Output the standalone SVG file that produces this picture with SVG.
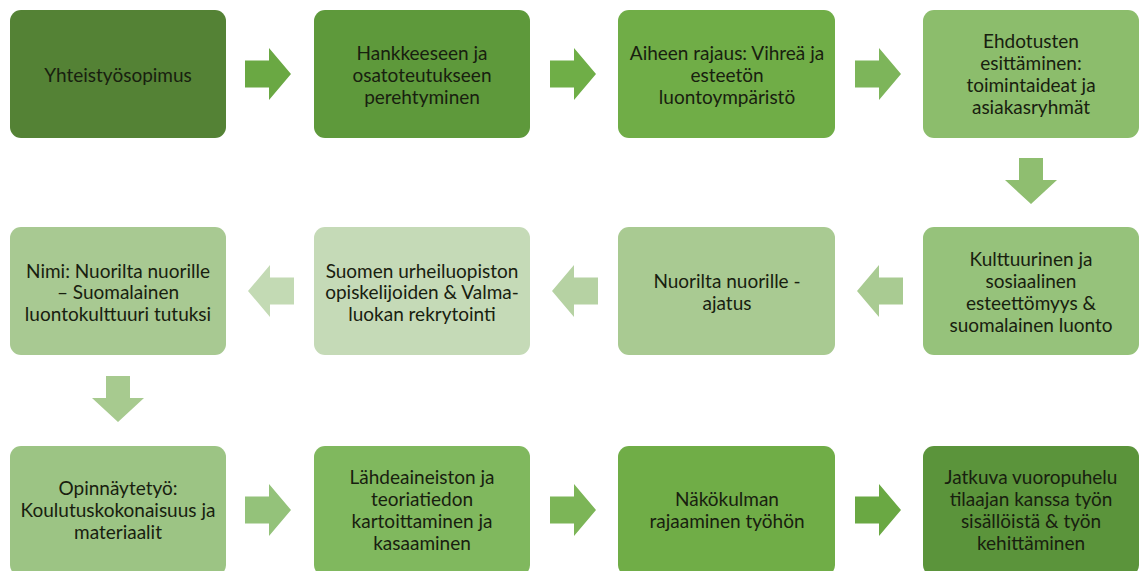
<svg xmlns="http://www.w3.org/2000/svg" width="1141" height="571" viewBox="0 0 1141 571">
<style>
.box{stroke:none}
text{font-family:Lato,"Liberation Sans",sans-serif;font-size:19px;fill:#18200f;text-anchor:middle;dominant-baseline:central}
</style>
<defs>
<path id="ar" d="M0,-13.5 H24 V-26 L46,0 L24,26 V13.5 H0 Z"/>
<path id="al" d="M0,-13.5 H-24 V-26 L-46,0 L-24,26 V13.5 H0 Z"/>
<path id="ad" d="M-12,0 V22 H-26 L0,46 L26,22 H12 V0 Z"/>
</defs>
<rect width="1141" height="571" fill="#ffffff"/>

<g id="connectors">
<use href="#ar" x="245" y="74" fill="#6aa843"/>
<use href="#ar" x="550" y="74" fill="#6fae47"/>
<use href="#ar" x="855" y="74" fill="#7db55a"/>
<use href="#ad" x="1031" y="158" fill="#8fbe70"/>
<use href="#al" x="903" y="291" fill="#a9cb92"/>
<use href="#al" x="598" y="291" fill="#b6d2a3"/>
<use href="#al" x="294" y="291" fill="#c3dab4"/>
<use href="#ad" x="118" y="376" fill="#a7ca8f"/>
<use href="#ar" x="245" y="510" fill="#94c27a"/>
<use href="#ar" x="550" y="510" fill="#7cb557"/>
<use href="#ar" x="855" y="510" fill="#6aa843"/>
</g>

<g id="n1"><rect class="box" x="10" y="10" width="216" height="128" rx="11" fill="#548235"/>
<text x="118" y="74">Yhteistyösopimus</text></g>

<g id="n2"><rect class="box" x="314" y="10" width="216" height="128" rx="11" fill="#5e993b"/>
<text x="422" y="52">Hankkeeseen ja</text><text x="422" y="74">osatoteutukseen</text><text x="422" y="96">perehtyminen</text></g>

<g id="n3"><rect class="box" x="618" y="10" width="217" height="128" rx="11" fill="#70ad47"/>
<text x="727" y="52">Aiheen rajaus: Vihreä ja</text><text x="727" y="74">esteetön</text><text x="727" y="96">luontoympäristö</text></g>

<g id="n4"><rect class="box" x="923" y="10" width="216" height="128" rx="11" fill="#8cbd6c"/>
<text x="1031" y="40">Ehdotusten</text><text x="1031" y="62">esittäminen:</text><text x="1031" y="84">toimintaideat ja</text><text x="1031" y="106">asiakasryhmät</text></g>

<g id="n5"><rect class="box" x="923" y="227" width="216" height="128" rx="11" fill="#96c27b"/>
<text x="1031" y="258">Kulttuurinen ja</text><text x="1031" y="280">sosiaalinen</text><text x="1031" y="302">esteettömyys &amp;</text><text x="1031" y="324">suomalainen luonto</text></g>

<g id="n6"><rect class="box" x="618" y="227" width="217" height="128" rx="11" fill="#a9ca92"/>
<text x="727" y="280">Nuorilta nuorille -</text><text x="727" y="302">ajatus</text></g>

<g id="n7"><rect class="box" x="314" y="227" width="216" height="128" rx="11" fill="#c5dab7"/>
<text x="422" y="270">Suomen urheiluopiston</text><text x="422" y="291">opiskelijoiden &amp; Valma-</text><text x="422" y="313">luokan rekrytointi</text></g>

<g id="n8"><rect class="box" x="10" y="227" width="216" height="128" rx="11" fill="#a8c992"/>
<text x="118" y="270">Nimi: Nuorilta nuorille</text><text x="118" y="291">– Suomalainen</text><text x="118" y="313">luontokulttuuri tutuksi</text></g>

<g id="n9"><rect class="box" x="10" y="446" width="216" height="130" rx="11" fill="#9cc484"/>
<text x="118" y="487">Opinnäytetyö:</text><text x="118" y="509">Koulutuskokonaisuus ja</text><text x="118" y="531">materiaalit</text></g>

<g id="n10"><rect class="box" x="314" y="446" width="216" height="130" rx="11" fill="#80b85e"/>
<text x="422" y="476">Lähdeaineiston ja</text><text x="422" y="498">teoriatiedon</text><text x="422" y="520">kartoittaminen ja</text><text x="422" y="542">kasaaminen</text></g>

<g id="n11"><rect class="box" x="618" y="446" width="217" height="130" rx="11" fill="#70ad47"/>
<text x="727" y="498">Näkökulman</text><text x="727" y="520">rajaaminen työhön</text></g>

<g id="n12"><rect class="box" x="923" y="446" width="216" height="130" rx="11" fill="#5b943b"/>
<text x="1031" y="476">Jatkuva vuoropuhelu</text><text x="1031" y="498">tilaajan kanssa työn</text><text x="1031" y="520">sisällöistä &amp; työn</text><text x="1031" y="542">kehittäminen</text></g>
</svg>
